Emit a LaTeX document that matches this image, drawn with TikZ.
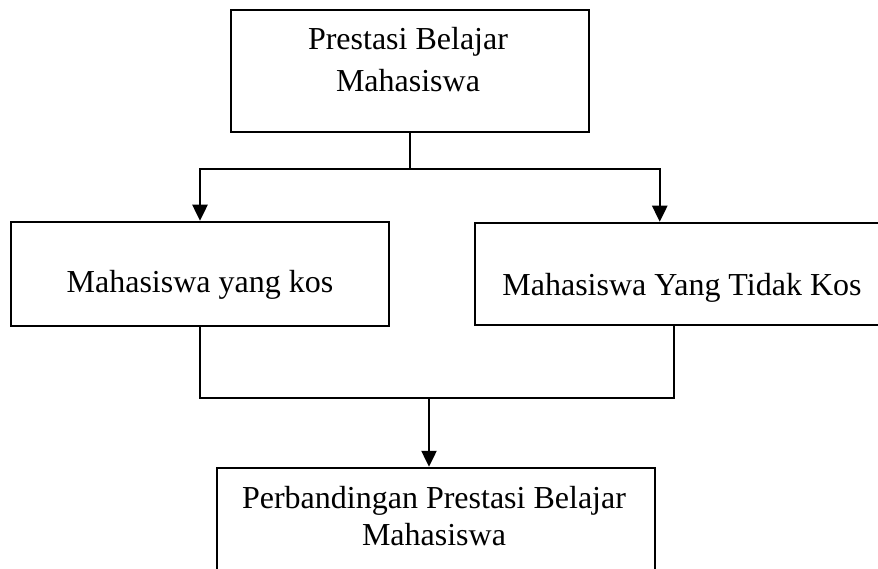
\documentclass[tikz,border=0pt]{standalone}
\usepackage{fontspec}
\setmainfont{Liberation Serif}
\usetikzlibrary{arrows.meta,calc}
\begin{document}
\begin{tikzpicture}[x=1pt,y=-1pt,line width=2.5pt,
  box/.style={draw,rectangle,inner sep=0pt},
  lbl/.style={font=\fontsize{32}{42}\selectfont,align=center,inner sep=0pt,anchor=base},
  arr/.style={-{Triangle[length=16pt,width=15pt]}}]
\clip (0,0) rectangle (878,569);
\node[box,minimum width=358pt,minimum height=122pt] (T) at (410,71) {};
\node[box,minimum width=378pt,minimum height=104pt] (L) at (200,274) {};
\node[box,minimum width=410pt,minimum height=102pt] (R) at (680,274) {};
\node[box,minimum width=438pt,minimum height=132pt] (B) at (436,534) {};
\node[lbl] (Tt) at (408,92) {Prestasi Belajar\\Mahasiswa};
\node[lbl] (Lt) at (200,293) {Mahasiswa yang kos};
\node[lbl] (Rt) at (682,296) {Mahasiswa Yang Tidak Kos};
\node[lbl,font=\fontsize{32}{37}\selectfont] (Bt) at (434,545) {Perbandingan Prestasi Belajar\\Mahasiswa};
\coordinate (j1) at ($(T.south)+(0,36)$);
\coordinate (rn) at ($(R.north west)+(186,0)$);
\draw (T.south) -- (j1);
\draw[arr] (j1) -| (L.north);
\draw[arr] (j1) -| (rn);
\coordinate (j2) at (429,398);
\coordinate (rs) at ($(R.south west)+(200,0)$);
\draw (L.south) |- (j2);
\draw (rs) |- (j2);
\draw[arr] (j2) -- (j2 |- B.north);
\end{tikzpicture}
\end{document}
